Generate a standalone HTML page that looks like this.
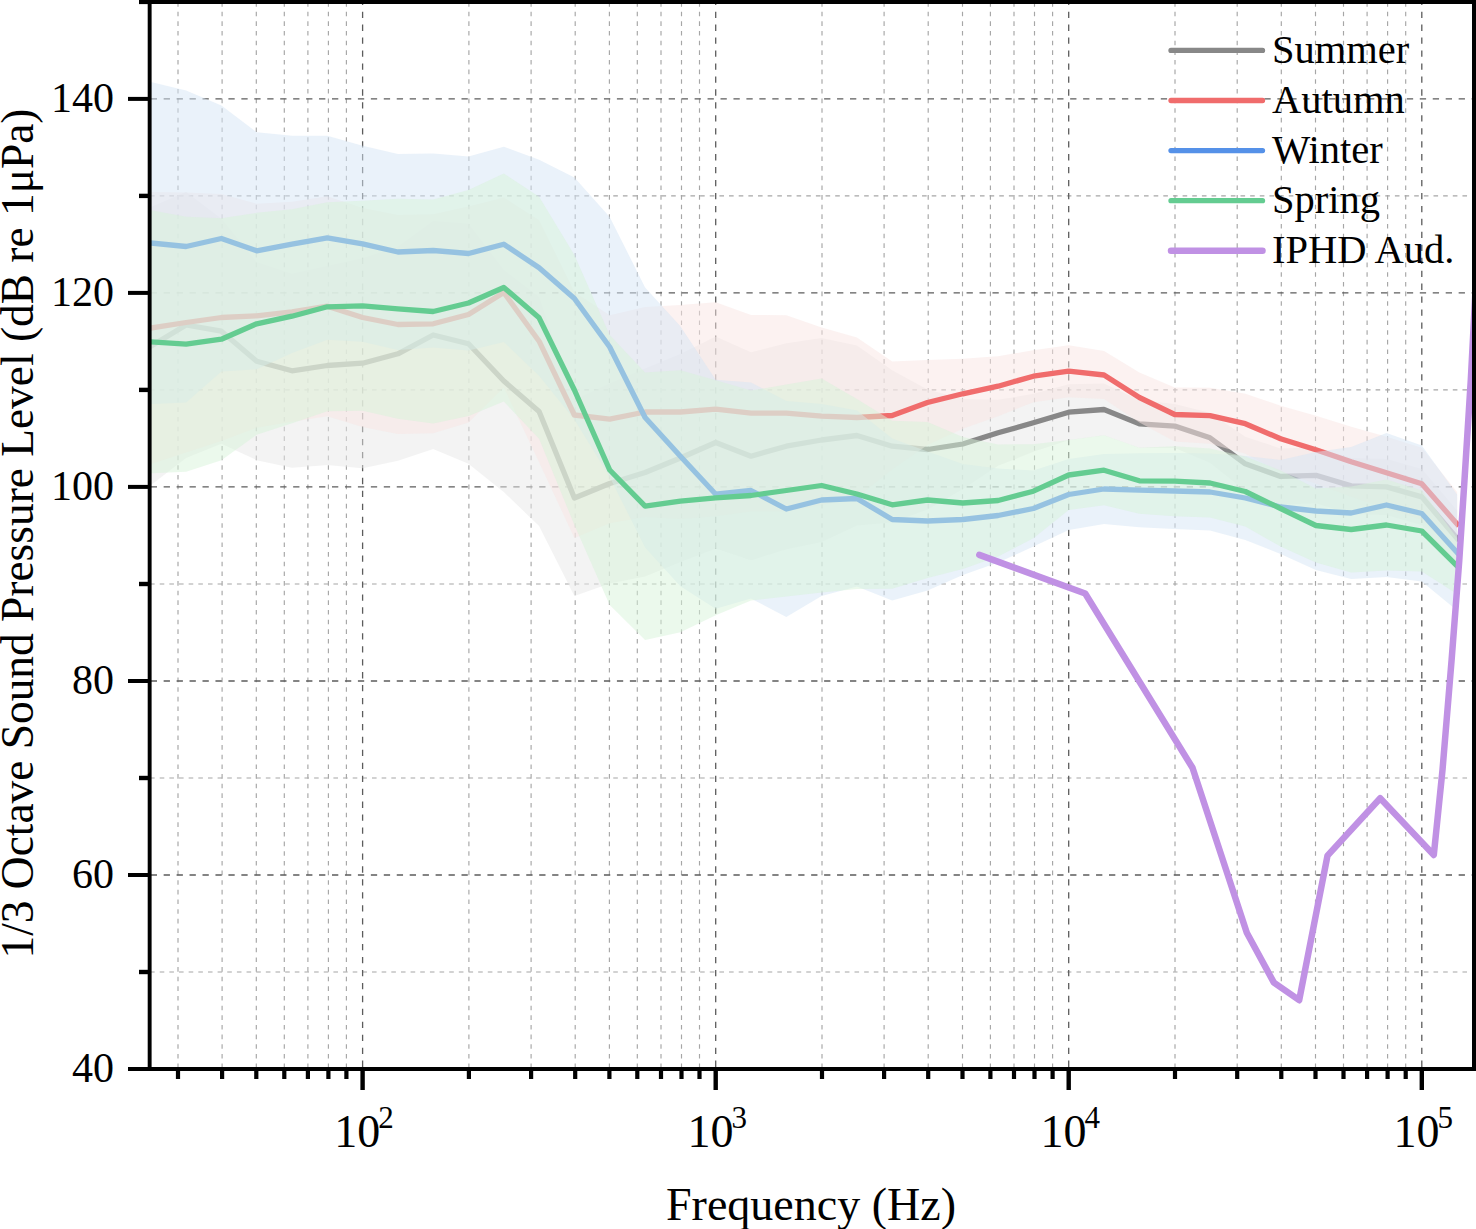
<!DOCTYPE html>
<html><head><meta charset="utf-8"><style>
html,body{margin:0;padding:0;background:#fff;}
svg{display:block;}
text{font-family:"Liberation Serif",serif;fill:#000;}
.tl{font-size:42px;}
.tl2{font-size:46px;}
.al{font-size:46px;}
.lg{font-size:40.5px;}
.gmaj{stroke:#5c5c5c;stroke-width:1.3;stroke-dasharray:6.3 6.65;}
.gmaj.gh{stroke-dashoffset:11.85;}
.gmaj.gv{stroke-dashoffset:10.85;}
.gmin{stroke:#a6a6a6;stroke-width:1.15;stroke-dasharray:4.6 5.05;}
.gmin.gh{stroke-dashoffset:9.2;}
.gmin.gv{stroke-dashoffset:8.8;}
</style></head><body>
<svg width="1476" height="1229" viewBox="0 0 1476 1229">
<defs><clipPath id="clip"><rect x="151" y="4" width="1321" height="1063"/></clipPath></defs>
<rect width="1476" height="1229" fill="#fff"/>
<line x1="178" y1="1069" x2="178" y2="2" class="gmin gv"/>
<line x1="222.1" y1="1069" x2="222.1" y2="2" class="gmin gv"/>
<line x1="256.3" y1="1069" x2="256.3" y2="2" class="gmin gv"/>
<line x1="284.3" y1="1069" x2="284.3" y2="2" class="gmin gv"/>
<line x1="307.9" y1="1069" x2="307.9" y2="2" class="gmin gv"/>
<line x1="328.4" y1="1069" x2="328.4" y2="2" class="gmin gv"/>
<line x1="346.4" y1="1069" x2="346.4" y2="2" class="gmin gv"/>
<line x1="468.9" y1="1069" x2="468.9" y2="2" class="gmin gv"/>
<line x1="531.1" y1="1069" x2="531.1" y2="2" class="gmin gv"/>
<line x1="575.2" y1="1069" x2="575.2" y2="2" class="gmin gv"/>
<line x1="609.4" y1="1069" x2="609.4" y2="2" class="gmin gv"/>
<line x1="637.3" y1="1069" x2="637.3" y2="2" class="gmin gv"/>
<line x1="661" y1="1069" x2="661" y2="2" class="gmin gv"/>
<line x1="681.5" y1="1069" x2="681.5" y2="2" class="gmin gv"/>
<line x1="699.5" y1="1069" x2="699.5" y2="2" class="gmin gv"/>
<line x1="822" y1="1069" x2="822" y2="2" class="gmin gv"/>
<line x1="884.1" y1="1069" x2="884.1" y2="2" class="gmin gv"/>
<line x1="928.2" y1="1069" x2="928.2" y2="2" class="gmin gv"/>
<line x1="962.5" y1="1069" x2="962.5" y2="2" class="gmin gv"/>
<line x1="990.4" y1="1069" x2="990.4" y2="2" class="gmin gv"/>
<line x1="1014" y1="1069" x2="1014" y2="2" class="gmin gv"/>
<line x1="1034.5" y1="1069" x2="1034.5" y2="2" class="gmin gv"/>
<line x1="1052.6" y1="1069" x2="1052.6" y2="2" class="gmin gv"/>
<line x1="1175" y1="1069" x2="1175" y2="2" class="gmin gv"/>
<line x1="1237.2" y1="1069" x2="1237.2" y2="2" class="gmin gv"/>
<line x1="1281.3" y1="1069" x2="1281.3" y2="2" class="gmin gv"/>
<line x1="1315.5" y1="1069" x2="1315.5" y2="2" class="gmin gv"/>
<line x1="1343.5" y1="1069" x2="1343.5" y2="2" class="gmin gv"/>
<line x1="1367.1" y1="1069" x2="1367.1" y2="2" class="gmin gv"/>
<line x1="1387.6" y1="1069" x2="1387.6" y2="2" class="gmin gv"/>
<line x1="1405.7" y1="1069" x2="1405.7" y2="2" class="gmin gv"/>
<line x1="149.6" y1="972" x2="1474" y2="972" class="gmin gh"/>
<line x1="149.6" y1="778" x2="1474" y2="778" class="gmin gh"/>
<line x1="149.6" y1="584" x2="1474" y2="584" class="gmin gh"/>
<line x1="149.6" y1="389.9" x2="1474" y2="389.9" class="gmin gh"/>
<line x1="149.6" y1="195.9" x2="1474" y2="195.9" class="gmin gh"/>
<line x1="362.6" y1="1069" x2="362.6" y2="2" class="gmaj gv"/>
<line x1="715.7" y1="1069" x2="715.7" y2="2" class="gmaj gv"/>
<line x1="1068.7" y1="1069" x2="1068.7" y2="2" class="gmaj gv"/>
<line x1="1421.8" y1="1069" x2="1421.8" y2="2" class="gmaj gv"/>
<line x1="149.6" y1="875" x2="1474" y2="875" class="gmaj gh"/>
<line x1="149.6" y1="681" x2="1474" y2="681" class="gmaj gh"/>
<line x1="149.6" y1="486.9" x2="1474" y2="486.9" class="gmaj gh"/>
<line x1="149.6" y1="292.9" x2="1474" y2="292.9" class="gmaj gh"/>
<line x1="149.6" y1="98.9" x2="1474" y2="98.9" class="gmaj gh"/>
<g clip-path="url(#clip)"><path d="M150.8,207.2 L186.1,192 L221.4,218.8 L256.7,262.2 L292,273.8 L327.3,266 L362.6,258.2 L397.9,246.8 L433.2,221 L468.5,223.8 L503.8,270 L539.1,297 L574.4,400 L609.7,383.5 L645.1,368.5 L680.4,354 L715.7,336.5 L751,352.2 L786.3,343.2 L821.6,338 L856.9,345.5 L892.2,370.2 L927.5,389.5 L962.8,399 L998.1,399.8 L1033.4,393.8 L1068.7,384.2 L1104,383.5 L1139.4,399.9 L1174.7,404.1 L1210,412.8 L1245.3,436.8 L1280.6,448.4 L1315.9,447.3 L1351.2,457.9 L1386.5,458.9 L1421.8,468.9 L1457.1,510.5 L1457.1,566.5 L1421.8,524.9 L1386.5,514.9 L1351.2,513.9 L1315.9,503.3 L1280.6,504.4 L1245.3,490.8 L1210,462.8 L1174.7,448.1 L1139.4,447.9 L1104,435.5 L1068.7,440.2 L1033.4,451.8 L998.1,465.8 L962.8,489 L927.5,509.5 L892.2,522.2 L856.9,525.5 L821.6,542 L786.3,549.2 L751,560.2 L715.7,548.5 L680.4,562 L645.1,576.5 L609.7,583.5 L574.4,596 L539.1,526 L503.8,492 L468.5,463.8 L433.2,449 L397.9,460.8 L362.6,468.2 L327.3,465 L292,467.8 L256.7,460.2 L221.4,443.8 L186.1,458 L150.8,485.2 Z" fill="#e7e7e7" fill-opacity="0.5"/>
<path d="M150.8,346.2 L186.1,325 L221.4,331.2 L256.7,361.2 L292,370.8 L327.3,365.5 L362.6,363.2 L397.9,353.8 L433.2,335 L468.5,343.8 L503.8,381 L539.1,411.5 L574.4,498 L609.7,483.5 L645.1,472.5 L680.4,458 L715.7,442.5 L751,456.2 L786.3,446.2 L821.6,440 L856.9,435.5 L892.2,446.2 L927.5,449.5 L962.8,444 L998.1,432.8 L1033.4,422.8 L1068.7,412.2 L1104,409.5 L1139.4,423.9 L1174.7,426.1 L1210,437.8 L1245.3,463.8 L1280.6,476.4 L1315.9,475.3 L1351.2,485.9 L1386.5,486.9 L1421.8,496.9 L1457.1,538.5" fill="none" stroke="#888888" stroke-width="5.3" stroke-linejoin="round" stroke-linecap="square"/>
<path d="M150.8,192 L186.1,192.5 L221.4,194 L256.7,203.8 L292,201.8 L327.3,196.2 L362.6,208 L397.9,215 L433.2,214.2 L468.5,206.5 L503.8,197.5 L539.1,220.2 L574.4,292 L609.7,315.2 L645.1,307 L680.4,305 L715.7,302.2 L751,315 L786.3,315.2 L821.6,327.5 L856.9,337.5 L892.2,361.5 L927.5,360 L962.8,358.8 L998.1,356.2 L1033.4,350.2 L1068.7,345.2 L1104,351 L1139.4,372.5 L1174.7,387.5 L1210,387.7 L1245.3,393.7 L1280.6,405.7 L1315.9,415.7 L1351.2,426.8 L1386.5,436.8 L1421.8,447.8 L1457.1,492 L1457.1,556 L1421.8,519.8 L1386.5,508.8 L1351.2,496.8 L1315.9,483.7 L1280.6,471.7 L1245.3,453.7 L1210,443.7 L1174.7,441.5 L1139.4,422.5 L1104,399 L1068.7,397.2 L1033.4,402.2 L998.1,416.2 L962.8,428.8 L927.5,445 L892.2,469.5 L856.9,497.5 L821.6,505 L786.3,511.2 L751,511.5 L715.7,516.2 L680.4,519 L645.1,517 L609.7,523.2 L574.4,538 L539.1,462.2 L503.8,387.5 L468.5,422.5 L433.2,433.2 L397.9,434 L362.6,427 L327.3,416.2 L292,421.8 L256.7,427.8 L221.4,441 L186.1,452.5 L150.8,464 Z" fill="#f9e5e3" fill-opacity="0.5"/>
<path d="M150.8,328 L186.1,322.5 L221.4,317.5 L256.7,315.8 L292,311.8 L327.3,306.2 L362.6,317.5 L397.9,324.5 L433.2,323.8 L468.5,314.5 L503.8,292.5 L539.1,341.2 L574.4,415 L609.7,419.2 L645.1,412 L680.4,412 L715.7,409.2 L751,413.2 L786.3,413.2 L821.6,416.2 L856.9,417.5 L892.2,415.5 L927.5,402.5 L962.8,393.8 L998.1,386.2 L1033.4,376.2 L1068.7,371.2 L1104,375 L1139.4,397.5 L1174.7,414.5 L1210,415.7 L1245.3,423.7 L1280.6,438.7 L1315.9,449.7 L1351.2,461.8 L1386.5,472.8 L1421.8,483.8 L1457.1,524" fill="none" stroke="#f06c6c" stroke-width="5.3" stroke-linejoin="round" stroke-linecap="square"/>
<path d="M150.8,82 L186.1,90.5 L221.4,105.5 L256.7,132.2 L292,135.7 L327.3,135.8 L362.6,145.8 L397.9,154 L433.2,153.5 L468.5,156.5 L503.8,146.7 L539.1,159.8 L574.4,177.5 L609.7,217 L645.1,287.5 L680.4,326.2 L715.7,379.8 L751,382.5 L786.3,401 L821.6,404 L856.9,410.5 L892.2,438.5 L927.5,451.5 L962.8,464 L998.1,468.5 L1033.4,470.5 L1068.7,459 L1104,454 L1139.4,453.2 L1174.7,453 L1210,453.5 L1245.3,456 L1280.6,460 L1315.9,452 L1351.2,447 L1386.5,433 L1421.8,445.5 L1457.1,494.5 L1457.1,610.5 L1421.8,581.5 L1386.5,577 L1351.2,579 L1315.9,570 L1280.6,554 L1245.3,540 L1210,530.5 L1174.7,529 L1139.4,527.2 L1104,524 L1068.7,530 L1033.4,546.5 L998.1,562.5 L962.8,575 L927.5,590.5 L892.2,600.5 L856.9,586.5 L821.6,596 L786.3,617 L751,598.5 L715.7,608.8 L680.4,586.2 L645.1,547.5 L609.7,477 L574.4,419.5 L539.1,375.8 L503.8,341.9 L468.5,350.5 L433.2,347.5 L397.9,350 L362.6,341.8 L327.3,339.8 L292,352.9 L256.7,369.2 L221.4,371.5 L186.1,402.5 L150.8,404 Z" fill="#d5e5f5" fill-opacity="0.5"/>
<path d="M150.8,243 L186.1,246.5 L221.4,238.5 L256.7,250.8 L292,244.2 L327.3,237.8 L362.6,243.8 L397.9,252 L433.2,250.5 L468.5,253.5 L503.8,244.2 L539.1,267.8 L574.4,298.5 L609.7,347 L645.1,417.5 L680.4,456.2 L715.7,494.2 L751,490.5 L786.3,509 L821.6,500 L856.9,498.5 L892.2,519.5 L927.5,521 L962.8,519.5 L998.1,515.5 L1033.4,508.5 L1068.7,494.5 L1104,489 L1139.4,490.2 L1174.7,491 L1210,492 L1245.3,498 L1280.6,507 L1315.9,511 L1351.2,513 L1386.5,505 L1421.8,513.5 L1457.1,552.5" fill="none" stroke="#5591e8" stroke-width="5.3" stroke-linejoin="round" stroke-linecap="square"/>
<path d="M150.8,210.2 L186.1,216.8 L221.4,218.2 L256.7,212.8 L292,209.2 L327.3,202.2 L362.6,200.8 L397.9,198.8 L433.2,199.5 L468.5,190 L503.8,173.5 L539.1,196.8 L574.4,255 L609.7,335 L645.1,372.5 L680.4,370.2 L715.7,380.2 L751,390.5 L786.3,384.5 L821.6,378.5 L856.9,399 L892.2,420.8 L927.5,422 L962.8,437 L998.1,444.5 L1033.4,444.2 L1068.7,440 L1104,435.2 L1139.4,447.8 L1174.7,446.2 L1210,448.5 L1245.3,456.5 L1280.6,470.5 L1315.9,488.5 L1351.2,486.5 L1386.5,479.5 L1421.8,490.5 L1457.1,538 L1457.1,594 L1421.8,571.5 L1386.5,570.5 L1351.2,572.5 L1315.9,562.5 L1280.6,546.5 L1245.3,526.5 L1210,517.5 L1174.7,516.2 L1139.4,513.8 L1104,505.2 L1068.7,510 L1033.4,538.2 L998.1,556.5 L962.8,569 L927.5,578 L892.2,588.8 L856.9,589 L821.6,592.5 L786.3,596.5 L751,600.5 L715.7,615.2 L680.4,632.2 L645.1,640 L609.7,605 L574.4,525 L539.1,438.8 L503.8,401.5 L468.5,416 L433.2,423.5 L397.9,418.8 L362.6,410.8 L327.3,411.2 L292,423.2 L256.7,434.8 L221.4,460.2 L186.1,471.8 L150.8,473.2 Z" fill="#d7f3d9" fill-opacity="0.5"/>
<path d="M150.8,341.8 L186.1,344.2 L221.4,339.2 L256.7,323.8 L292,316.2 L327.3,306.8 L362.6,305.8 L397.9,308.8 L433.2,311.5 L468.5,303 L503.8,287.5 L539.1,317.8 L574.4,390 L609.7,470 L645.1,506.2 L680.4,501.2 L715.7,497.8 L751,495.5 L786.3,490.5 L821.6,485.5 L856.9,494 L892.2,504.8 L927.5,500 L962.8,503 L998.1,500.5 L1033.4,491.2 L1068.7,475 L1104,470.2 L1139.4,480.8 L1174.7,481.2 L1210,483 L1245.3,491.5 L1280.6,508.5 L1315.9,525.5 L1351.2,529.5 L1386.5,525 L1421.8,531 L1457.1,566" fill="none" stroke="#64cc91" stroke-width="5.3" stroke-linejoin="round" stroke-linecap="square"/>
<path d="M979.3,554.9 L1085.2,593.5 L1192.5,767.8 L1246.8,932.8 L1273.9,982.6 L1299.2,1000.2 L1327.5,855.6 L1380.2,798.2 L1433.8,855 L1442.5,770 L1451.6,660 L1459.3,560 L1464.5,480 L1470.8,380 L1475,300 L1477,260" fill="none" stroke="#c091e4" stroke-width="6.5" stroke-linejoin="round" stroke-linecap="round"/></g>
<rect x="147.7" y="0" width="3.9" height="1071" fill="#000"/>
<rect x="128" y="1067" width="1348" height="4" fill="#000"/>
<rect x="139" y="0" width="1337" height="4" fill="#000"/>
<rect x="1472" y="0" width="4" height="1071" fill="#000"/>
<rect x="128" y="1067" width="21" height="4" fill="#000"/>
<rect x="128" y="873" width="21" height="4" fill="#000"/>
<rect x="128" y="679" width="21" height="4" fill="#000"/>
<rect x="128" y="484.9" width="21" height="4" fill="#000"/>
<rect x="128" y="290.9" width="21" height="4" fill="#000"/>
<rect x="128" y="96.9" width="21" height="4" fill="#000"/>
<rect x="139" y="969.8" width="10" height="4.4" fill="#000"/>
<rect x="139" y="775.8" width="10" height="4.4" fill="#000"/>
<rect x="139" y="581.8" width="10" height="4.4" fill="#000"/>
<rect x="139" y="387.7" width="10" height="4.4" fill="#000"/>
<rect x="139" y="193.7" width="10" height="4.4" fill="#000"/>
<rect x="139" y="-0.3" width="10" height="4.4" fill="#000"/>
<rect x="360.4" y="1069" width="4.4" height="21" fill="#000"/>
<rect x="713.5" y="1069" width="4.4" height="21" fill="#000"/>
<rect x="1066.5" y="1069" width="4.4" height="21" fill="#000"/>
<rect x="1419.6" y="1069" width="4.4" height="21" fill="#000"/>
<rect x="175.9" y="1069" width="4.2" height="10" fill="#000"/>
<rect x="220" y="1069" width="4.2" height="10" fill="#000"/>
<rect x="254.2" y="1069" width="4.2" height="10" fill="#000"/>
<rect x="282.2" y="1069" width="4.2" height="10" fill="#000"/>
<rect x="305.8" y="1069" width="4.2" height="10" fill="#000"/>
<rect x="326.3" y="1069" width="4.2" height="10" fill="#000"/>
<rect x="344.3" y="1069" width="4.2" height="10" fill="#000"/>
<rect x="466.8" y="1069" width="4.2" height="10" fill="#000"/>
<rect x="529" y="1069" width="4.2" height="10" fill="#000"/>
<rect x="573.1" y="1069" width="4.2" height="10" fill="#000"/>
<rect x="607.3" y="1069" width="4.2" height="10" fill="#000"/>
<rect x="635.2" y="1069" width="4.2" height="10" fill="#000"/>
<rect x="658.9" y="1069" width="4.2" height="10" fill="#000"/>
<rect x="679.4" y="1069" width="4.2" height="10" fill="#000"/>
<rect x="697.4" y="1069" width="4.2" height="10" fill="#000"/>
<rect x="819.9" y="1069" width="4.2" height="10" fill="#000"/>
<rect x="882" y="1069" width="4.2" height="10" fill="#000"/>
<rect x="926.1" y="1069" width="4.2" height="10" fill="#000"/>
<rect x="960.4" y="1069" width="4.2" height="10" fill="#000"/>
<rect x="988.3" y="1069" width="4.2" height="10" fill="#000"/>
<rect x="1011.9" y="1069" width="4.2" height="10" fill="#000"/>
<rect x="1032.4" y="1069" width="4.2" height="10" fill="#000"/>
<rect x="1050.5" y="1069" width="4.2" height="10" fill="#000"/>
<rect x="1172.9" y="1069" width="4.2" height="10" fill="#000"/>
<rect x="1235.1" y="1069" width="4.2" height="10" fill="#000"/>
<rect x="1279.2" y="1069" width="4.2" height="10" fill="#000"/>
<rect x="1313.4" y="1069" width="4.2" height="10" fill="#000"/>
<rect x="1341.4" y="1069" width="4.2" height="10" fill="#000"/>
<rect x="1365" y="1069" width="4.2" height="10" fill="#000"/>
<rect x="1385.5" y="1069" width="4.2" height="10" fill="#000"/>
<rect x="1403.6" y="1069" width="4.2" height="10" fill="#000"/>
<text x="114" y="1081.6" text-anchor="end" class="tl">40</text>
<text x="114" y="887.6" text-anchor="end" class="tl">60</text>
<text x="114" y="693.6" text-anchor="end" class="tl">80</text>
<text x="114" y="499.5" text-anchor="end" class="tl">100</text>
<text x="114" y="305.5" text-anchor="end" class="tl">120</text>
<text x="114" y="111.5" text-anchor="end" class="tl">140</text>
<text x="364.1" y="1147" text-anchor="middle" class="tl2">10<tspan dx="-2" dy="-19" font-size="31">2</tspan></text>
<text x="717.2" y="1147" text-anchor="middle" class="tl2">10<tspan dx="-2" dy="-19" font-size="31">3</tspan></text>
<text x="1070.2" y="1147" text-anchor="middle" class="tl2">10<tspan dx="-2" dy="-19" font-size="31">4</tspan></text>
<text x="1423.3" y="1147" text-anchor="middle" class="tl2">10<tspan dx="-2" dy="-19" font-size="31">5</tspan></text>
<text x="811" y="1219.5" text-anchor="middle" class="al">Frequency (Hz)</text>
<text transform="translate(32.5,533.5) rotate(-90)" text-anchor="middle" class="al" style="font-size:45.4px">1/3 Octave Sound Pressure Level (dB re 1μPa)</text>
<line x1="1171" y1="50.4" x2="1262.5" y2="50.4" stroke="#888888" stroke-width="5.3" stroke-linecap="round"/>
<text x="1272" y="63" class="lg">Summer</text>
<line x1="1171" y1="100.5" x2="1262.5" y2="100.5" stroke="#f06c6c" stroke-width="5.3" stroke-linecap="round"/>
<text x="1272" y="113.1" class="lg">Autumn</text>
<line x1="1171" y1="150.6" x2="1262.5" y2="150.6" stroke="#5591e8" stroke-width="5.3" stroke-linecap="round"/>
<text x="1272" y="163.2" class="lg">Winter</text>
<line x1="1171" y1="200.7" x2="1262.5" y2="200.7" stroke="#64cc91" stroke-width="5.3" stroke-linecap="round"/>
<text x="1272" y="213.3" class="lg">Spring</text>
<line x1="1171" y1="250.8" x2="1262.5" y2="250.8" stroke="#c091e4" stroke-width="6.5" stroke-linecap="round"/>
<text x="1272" y="263.4" class="lg">IPHD Aud.</text>
</svg></body></html>
